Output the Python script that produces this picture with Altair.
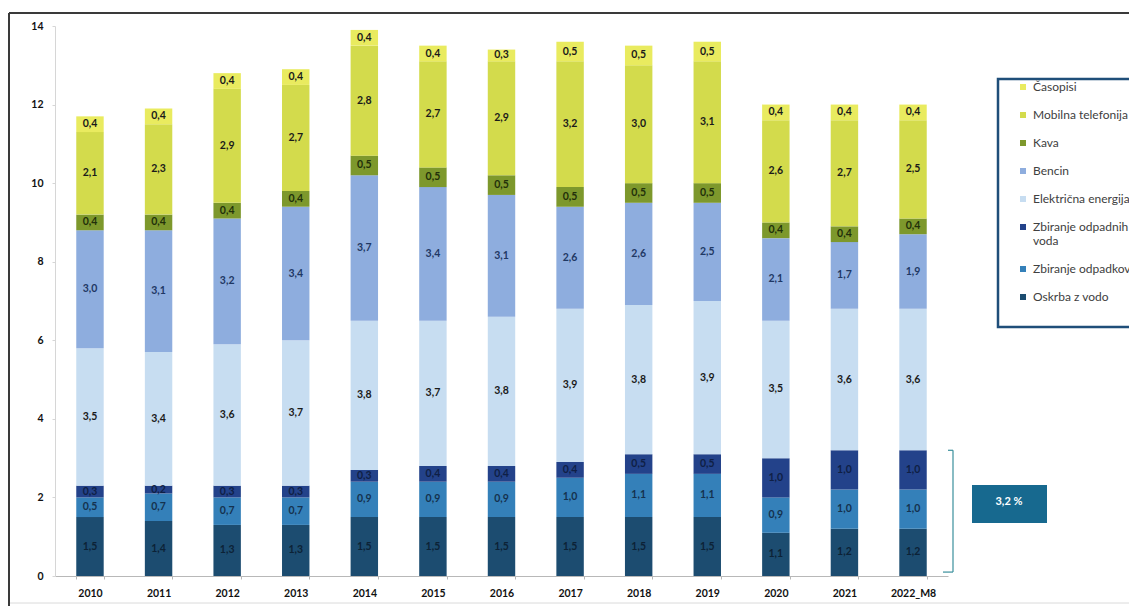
import altair as alt
import pandas as pd

years = ["2010", "2011", "2012", "2013", "2014", "2015", "2016",
         "2017", "2018", "2019", "2020", "2021", "2022_M8"]

# legend order (top to bottom)
categories = ["Časopisi", "Mobilna telefonija", "Kava", "Bencin",
              "Električna energija", "Zbiranje odpadnih voda",
              "Zbiranje odpadkov", "Oskrba z vodo"]

oskrba = [1.5, 1.4, 1.3, 1.3, 1.5, 1.5, 1.5, 1.5, 1.5, 1.5, 1.1, 1.2, 1.2]
odpadki = [0.5, 0.7, 0.7, 0.7, 0.9, 0.9, 0.9, 1.0, 1.1, 1.1, 0.9, 1.0, 1.0]
odpadne = [0.3, 0.2, 0.3, 0.3, 0.3, 0.4, 0.4, 0.4, 0.5, 0.5, 1.0, 1.0, 1.0]
elektr = [3.5, 3.4, 3.6, 3.7, 3.8, 3.7, 3.8, 3.9, 3.8, 3.9, 3.5, 3.6, 3.6]
bencin = [3.0, 3.1, 3.2, 3.4, 3.7, 3.4, 3.1, 2.6, 2.6, 2.5, 2.1, 1.7, 1.9]
kava = [0.4, 0.4, 0.4, 0.4, 0.5, 0.5, 0.5, 0.5, 0.5, 0.5, 0.4, 0.4, 0.4]
mobilna = [2.1, 2.3, 2.9, 2.7, 2.8, 2.7, 2.9, 3.2, 3.0, 3.1, 2.6, 2.7, 2.5]
casopisi = [0.4, 0.4, 0.4, 0.4, 0.4, 0.4, 0.3, 0.5, 0.5, 0.5, 0.4, 0.4, 0.4]

series = {
    "Oskrba z vodo": oskrba,
    "Zbiranje odpadkov": odpadki,
    "Zbiranje odpadnih voda": odpadne,
    "Električna energija": elektr,
    "Bencin": bencin,
    "Kava": kava,
    "Mobilna telefonija": mobilna,
    "Časopisi": casopisi,
}

bracket_top = [3.2]
bracket_bottom = [0.1]
note_text = ["3,2 %"]

rows = []
for k, (cat, vals) in enumerate(series.items()):
    for y, v in zip(years, vals):
        rows.append({"year": y, "cat": cat, "value": v, "order": k,
                     "label": f"{v:.1f}".replace(".", ",")})
df = pd.DataFrame(rows)

bar_colors = ["#e9eb5f", "#d3db4c", "#7d982c", "#8eadde",
              "#c7ddf1", "#23428a", "#3480b9", "#1c4c70"]
text_colors = ["#1a1a1a", "#1a1a1a", "#22300a", "#1f3864",
               "#1a1a1a", "#0f1f45", "#14324f", "#0c2236"]

FONT = "Lato"

x_enc = alt.X("year:N", sort=years,
              scale=alt.Scale(paddingInner=0.6, paddingOuter=0.31),
              axis=alt.Axis(title=None, labelAngle=0, labelFont=FONT,
                            labelFontWeight="bold", labelFontSize=10.5,
                            labelColor="#111111", labelPadding=9,
                            domainColor="#b8b8b8", tickColor="#b8b8b8",
                            tickBand="extent", tickSize=3))
y_scale = alt.Scale(domain=[0, 14], nice=False)

bars = alt.Chart(df).mark_bar().encode(
    x=x_enc,
    y=alt.Y("value:Q", stack="zero", scale=y_scale,
            axis=alt.Axis(title=None, values=[0, 2, 4, 6, 8, 10, 12, 14],
                          labelFont=FONT, labelFontWeight="bold",
                          labelFontSize=10.5, labelColor="#111111",
                          labelPadding=9, grid=False,
                          domainColor="#d6d6d6", tickColor="#d6d6d6",
                          tickSize=3)),
    color=alt.Color("cat:N", scale=alt.Scale(domain=categories, range=bar_colors),
                    legend=alt.Legend(
                        title=None, orient="none", legendX=962, legendY=55,
                        symbolType="square", symbolSize=36, symbolStrokeWidth=0,
                        labelFont=FONT, labelFontSize=12, labelColor="#404040",
                        labelOffset=4, rowPadding=16, padding=0,
                        labelLimit=300,
                        labelExpr="datum.label == 'Zbiranje odpadnih voda' ? ['Zbiranje odpadnih', 'voda'] : datum.label")),
    order=alt.Order("order:Q", sort="ascending"),
)

labels = alt.Chart(df).transform_stack(
    stack="value", groupby=["year"], sort=[alt.SortField("order")], as_=["v0", "v1"]
).transform_calculate(
    mid="(datum.v0 + datum.v1) / 2"
).mark_text(font=FONT, fontWeight="bold", fontSize=10.5).encode(
    x=alt.X("year:N", sort=years),
    y=alt.Y("mid:Q", scale=y_scale),
    text="label:N",
    fill=alt.Fill("cat:N", scale=alt.Scale(domain=categories, range=text_colors),
                  legend=None),
)

one = pd.DataFrame({"top": bracket_top, "bottom": bracket_bottom, "t": note_text})
deco = pd.DataFrame({"a": [1]})

bracket = alt.Chart(one).mark_rule(color="#3a8f9c", strokeWidth=1.2).encode(
    x=alt.value(898), y=alt.Y("top:Q", scale=y_scale), y2="bottom:Q")
bracket_t1 = alt.Chart(one).mark_rule(color="#3a8f9c", strokeWidth=1.2).encode(
    x=alt.value(893), x2=alt.value(898), y=alt.Y("top:Q", scale=y_scale))
bracket_t2 = alt.Chart(one).mark_rule(color="#3a8f9c", strokeWidth=1.2).encode(
    x=alt.value(888), x2=alt.value(898), y=alt.Y("bottom:Q", scale=y_scale))

note_box = alt.Chart(one).mark_rect(color="#17698f").encode(
    x=alt.value(917), x2=alt.value(992), y=alt.value(459), y2=alt.value(497))
note_txt = alt.Chart(one).mark_text(color="white", font=FONT, fontSize=11,
                                    fontWeight="bold").encode(
    x=alt.value(954), y=alt.value(476), text="t:N")

legend_box = alt.Chart(deco).mark_rect(fill="white", stroke="#1f4e79",
                                       strokeWidth=2.5).encode(
    x=alt.value(943), x2=alt.value(1110), y=alt.value(53), y2=alt.value(301))

frame_top = alt.Chart(deco).mark_rule(color="#3a3a3a", strokeWidth=2).encode(
    x=alt.value(-46), x2=alt.value(1110), y=alt.value(-13))
frame_left = alt.Chart(deco).mark_rule(color="#3a3a3a", strokeWidth=2).encode(
    x=alt.value(-46), y=alt.value(-13), y2=alt.value(600))
frame_bottom = alt.Chart(deco).mark_rule(color="#dadada", strokeWidth=1).encode(
    x=alt.value(-46), x2=alt.value(1110), y=alt.value(577))

chart = alt.layer(
    bars, labels, bracket, bracket_t1, bracket_t2,
    note_box, note_txt, legend_box, frame_bottom, frame_left, frame_top
).properties(
    width=893, height=550,
    autosize=alt.AutoSizeParams(type="none"),
    padding={"left": 47, "top": 18, "right": 181, "bottom": 30},
    background="white",
).configure_view(stroke=None)

chart.save("out.html", embed_options={"renderer": "svg", "actions": False})
